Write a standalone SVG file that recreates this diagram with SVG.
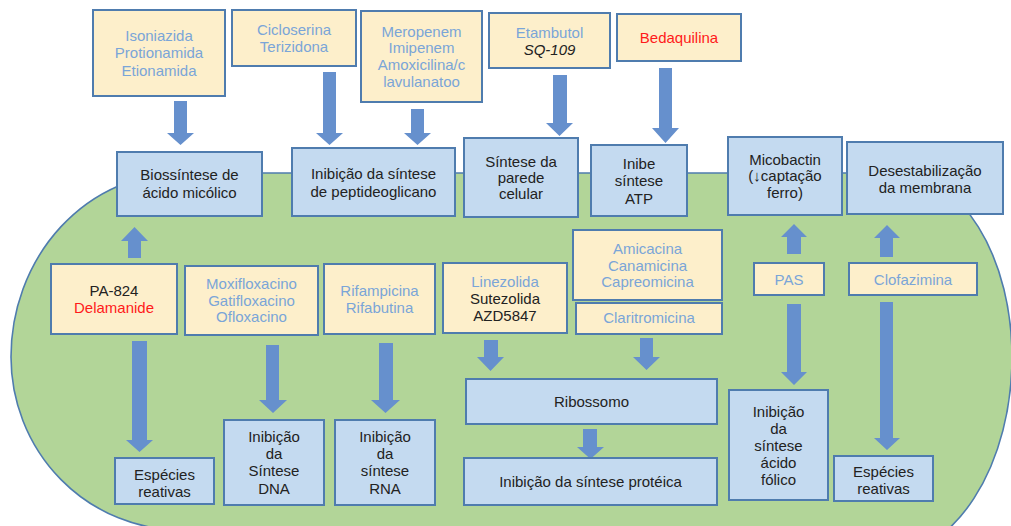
<svg xmlns="http://www.w3.org/2000/svg" width="1011" height="526" viewBox="0 0 1011 526">
<style>
.cell{fill:#b2d598;stroke:#4f7cae;stroke-width:1.6}
.y{fill:#fdefcb;stroke:#4f7cae;stroke-width:2}
.b{fill:#c4daf0;stroke:#4f7cae;stroke-width:2}
.ar{fill:#6690cd}
text{font-family:"Liberation Sans",Arial,sans-serif;font-size:15px;text-anchor:middle}
.k{fill:#222}
.l{fill:#7aa5d8}
.r{fill:#ff1a1a}
.i{font-style:italic}
</style>
<rect width="1011" height="526" fill="#ffffff"/>
<path class="cell" d="M181,173 L897,173 A115,184 0 0 1 1012,357 A130,200 0 0 1 882,557 L300,557 L181,530 A170,173 0 0 1 11,357 A170,184 0 0 1 181,173 Z"/>
<g id="connectors">
<path class="ar" d="M174,101H187V133H194L180.5,145L167,133H174Z"/>
<path class="ar" d="M323,72H336V133H343L329.5,145L316,133H323Z"/>
<path class="ar" d="M411,109H424V133H431L417.5,145L404,133H411Z"/>
<path class="ar" d="M553,75H567V123H573L559.5,136L546,123H553Z"/>
<path class="ar" d="M659,68H672V128H679L665.5,143L652,128H659Z"/>
<path class="ar" d="M132,341H147V440H153L139.5,452L126,440H132Z"/>
<path class="ar" d="M266,345H279V400H287L273,413L259,400H266Z"/>
<path class="ar" d="M379,343H393V400H400L385.5,413L371,400H379Z"/>
<path class="ar" d="M484,340H498V357H504L490.5,371L477,357H484Z"/>
<path class="ar" d="M640,338H653V357H660L646.5,370L633,357H640Z"/>
<path class="ar" d="M583,429H597V447H604L590.5,459L577,447H583Z"/>
<path class="ar" d="M787,304H801V372H807L794,385L781,372H787Z"/>
<path class="ar" d="M880,302H893V438H900L887,450L874,438H880Z"/>
<path class="ar" d="M128,258H141V241H148L134.5,227L121,241H128Z"/>
<path class="ar" d="M787,254H801V237H807L794,224L781,237H787Z"/>
<path class="ar" d="M880,257H893V238H900L887,225L874,238H880Z"/>
</g>
<g id="isoniazida"><rect class="y" x="93" y="10" width="132" height="86"/><text class="l" x="159" y="41">Isoniazida</text><text class="l" x="159" y="58">Protionamida</text><text class="l" x="159" y="76">Etionamida</text></g>
<g id="cicloserina"><rect class="y" x="232" y="10" width="124" height="56"/><text class="l" x="294" y="35">Cicloserina</text><text class="l" x="294" y="52">Terizidona</text></g>
<g id="meropenem"><rect class="y" x="361" y="11" width="121" height="91"/><text class="l" x="421.5" y="37">Meropenem</text><text class="l" x="421.5" y="53">Imipenem</text><text class="l" x="421.5" y="70">Amoxicilina/c</text><text class="l" x="421.5" y="87">lavulanatoo</text></g>
<g id="etambutol"><rect class="y" x="489" y="13" width="121" height="55"/><text class="l" x="549.5" y="38">Etambutol</text><text class="k i" x="549.5" y="55">SQ-109</text></g>
<g id="bedaquilina"><rect class="y" x="617" y="14" width="124" height="47"/><text class="r" x="679" y="43">Bedaquilina</text></g>
<g id="biossintese"><rect class="b" x="117" y="152" width="145" height="64"/><text class="k" x="189.5" y="180">Biossíntese de</text><text class="k" x="189.5" y="198">ácido micólico</text></g>
<g id="peptideoglicano"><rect class="b" x="292" y="148" width="163" height="68"/><text class="k" x="373.5" y="179">Inibição da síntese</text><text class="k" x="373.5" y="197">de peptideoglicano</text></g>
<g id="parede"><rect class="b" x="464" y="138" width="114" height="79"/><text class="k" x="521" y="167">Síntese da</text><text class="k" x="521" y="183">parede</text><text class="k" x="521" y="199">celular</text></g>
<g id="atp"><rect class="b" x="591" y="145" width="96" height="71"/><text class="k" x="639" y="169">Inibe</text><text class="k" x="639" y="186">síntese</text><text class="k" x="639" y="204">ATP</text></g>
<g id="micobactin"><rect class="b" x="728" y="137" width="114" height="78"/><text class="k" x="785" y="165">Micobactin</text><text class="k" x="785" y="181">(↓captação</text><text class="k" x="785" y="198">ferro)</text></g>
<g id="desestabilizacao"><rect class="b" x="847" y="142" width="156" height="72"/><text class="k" x="925" y="176">Desestabilização</text><text class="k" x="925" y="193">da membrana</text></g>
<g id="pa824"><rect class="y" x="51" y="264" width="126" height="70"/><text class="k" x="114" y="296">PA-824</text><text class="r" x="114" y="313">Delamanide</text></g>
<g id="moxifloxacino"><rect class="y" x="185" y="266" width="133" height="69"/><text class="l" x="251.5" y="289">Moxifloxacino</text><text class="l" x="251.5" y="306">Gatifloxacino</text><text class="l" x="251.5" y="322">Ofloxacino</text></g>
<g id="rifampicina"><rect class="y" x="324" y="264" width="111" height="70"/><text class="l" x="379.5" y="296">Rifampicina</text><text class="l" x="379.5" y="313">Rifabutina</text></g>
<g id="linezolida"><rect class="y" x="443" y="263" width="124" height="70"/><text class="l" x="505" y="287">Linezolida</text><text class="k" x="505" y="304">Sutezolida</text><text class="k" x="505" y="321">AZD5847</text></g>
<g id="amicacina"><rect class="y" x="573" y="230" width="149" height="70"/><text class="l" x="647.5" y="254">Amicacina</text><text class="l" x="647.5" y="271">Canamicina</text><text class="l" x="647.5" y="287">Capreomicina</text></g>
<g id="claritromicina"><rect class="y" x="576" y="303" width="146" height="31"/><text class="l" x="649" y="323">Claritromicina</text></g>
<g id="pas"><rect class="y" x="754" y="263" width="70" height="32"/><text class="l" x="789" y="285">PAS</text></g>
<g id="clofazimina"><rect class="y" x="849" y="263" width="128" height="32"/><text class="l" x="913" y="285">Clofazimina</text></g>
<g id="ribossomo"><rect class="b" x="466" y="379" width="251" height="45"/><text class="k" x="591.5" y="407">Ribossomo</text></g>
<g id="proteica"><rect class="b" x="464" y="458" width="253" height="47"/><text class="k" x="590.5" y="487">Inibição da síntese protéica</text></g>
<g id="especies1"><rect class="b" x="115" y="458" width="99" height="46"/><text class="k" x="164.5" y="480">Espécies</text><text class="k" x="164.5" y="497">reativas</text></g>
<g id="dna"><rect class="b" x="224" y="420" width="100" height="85"/><text class="k" x="274" y="442">Inibição</text><text class="k" x="274" y="459">da</text><text class="k" x="274" y="476">Síntese</text><text class="k" x="274" y="494">DNA</text></g>
<g id="rna"><rect class="b" x="335" y="420" width="100" height="85"/><text class="k" x="385" y="442">Inibição</text><text class="k" x="385" y="459">da</text><text class="k" x="385" y="476">síntese</text><text class="k" x="385" y="494">RNA</text></g>
<g id="folico"><rect class="b" x="729" y="390" width="99" height="110"/><text class="k" x="778.5" y="417">Inibição</text><text class="k" x="778.5" y="434">da</text><text class="k" x="778.5" y="451">síntese</text><text class="k" x="778.5" y="468">ácido</text><text class="k" x="778.5" y="485">fólico</text></g>
<g id="especies2"><rect class="b" x="834" y="456" width="99" height="45"/><text class="k" x="883.5" y="477">Espécies</text><text class="k" x="883.5" y="494">reativas</text></g>
</svg>
